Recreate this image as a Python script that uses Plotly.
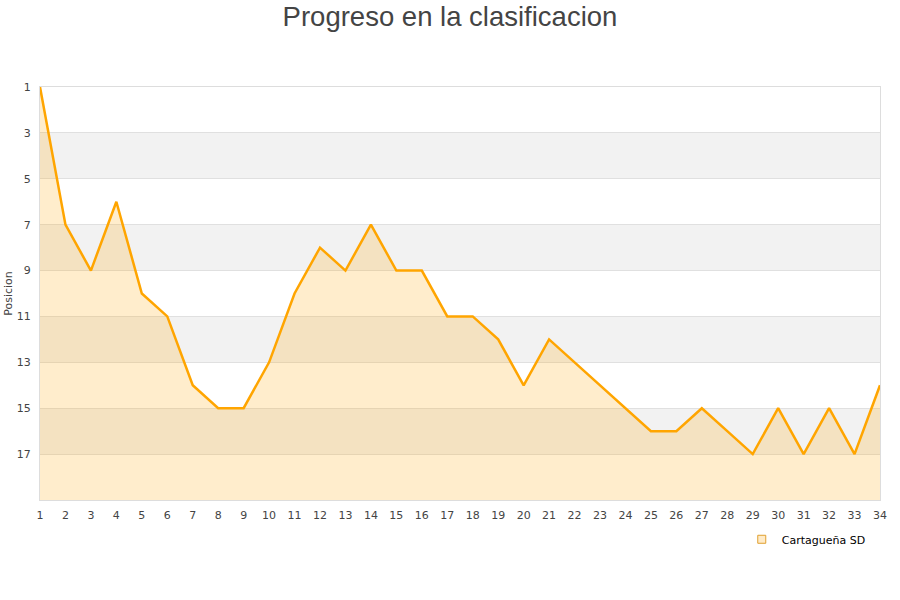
import plotly.graph_objects as go

jornadas = list(range(1, 35))
posiciones = [1, 7, 9, 6, 10, 11, 14, 15, 15, 13, 10, 8, 9, 7, 9, 9, 11, 11, 12, 14,
              12, 13, 14, 15, 16, 16, 15, 16, 17, 15, 17, 15, 17, 14]
equipo = "Cartagueña SD"
fondo = 19
bandas = [(3, 5), (7, 9), (11, 13), (15, 17)]

fig = go.Figure()
fig.add_trace(go.Scatter(x=jornadas, y=[fondo] * len(jornadas), mode="lines",
                         line=dict(width=0, color="rgba(0,0,0,0)"), showlegend=False,
                         hoverinfo="skip"))
fig.add_trace(go.Scatter(x=jornadas, y=posiciones, mode="lines", fill="tonexty",
                         fillcolor="rgba(255,165,0,0.2)",
                         line=dict(color="#FFA500", width=2.5), showlegend=False,
                         name=equipo))
fig.add_trace(go.Scatter(x=[None], y=[None], mode="markers", name=equipo,
                         marker=dict(symbol="square", size=8, color="#FFEBC8",
                                     line=dict(color="#E0A030", width=1))))

for a, b in bandas:
    fig.add_shape(type="rect", xref="paper", yref="y", x0=0, x1=1, y0=a, y1=b,
                  fillcolor="#f2f2f2", line=dict(width=0), layer="below")

fig.update_layout(
    width=900, height=600,
    paper_bgcolor="white", plot_bgcolor="white",
    margin=dict(l=40, r=20, t=87, b=100, autoexpand=False),
    title=dict(text="Progreso en la clasificacion", x=0.5, xanchor="center",
               yref="container", y=1 - 16 / 600, yanchor="middle",
               font=dict(family="Liberation Sans, Arial", size=27.5, color="#444")),
    font=dict(family="DejaVu Sans", size=11, color="#444"),
    xaxis=dict(range=[1, 34], tickmode="linear", tick0=1, dtick=1, showgrid=False,
               zeroline=False, showline=True, linecolor="#ddd", mirror=True,
               ticks="", automargin=False, ticklabelstandoff=5,
               tickfont=dict(size=11, color="#444")),
    yaxis=dict(range=[19, 1], tickmode="array", tickvals=[1, 3, 5, 7, 9, 11, 13, 15, 17],
               showgrid=True, gridcolor="#e0e0e0", zeroline=False, showline=True,
               linecolor="#ddd", mirror=True, ticks="", automargin=False,
               ticklabelstandoff=6,
               title=dict(text="Posicion", font=dict(size=11, color="#444"), standoff=1),
               tickfont=dict(size=11, color="#444")),
    legend=dict(orientation="h", x=0.989, xanchor="right", y=-0.06, yanchor="top",
                font=dict(family="DejaVu Sans", size=11, color="#000"),
                bgcolor="rgba(0,0,0,0)"),
    hovermode=False,
)
fig.write_html("out.html", config={"displayModeBar": False},
               post_script="document.body.style.margin='0';")
